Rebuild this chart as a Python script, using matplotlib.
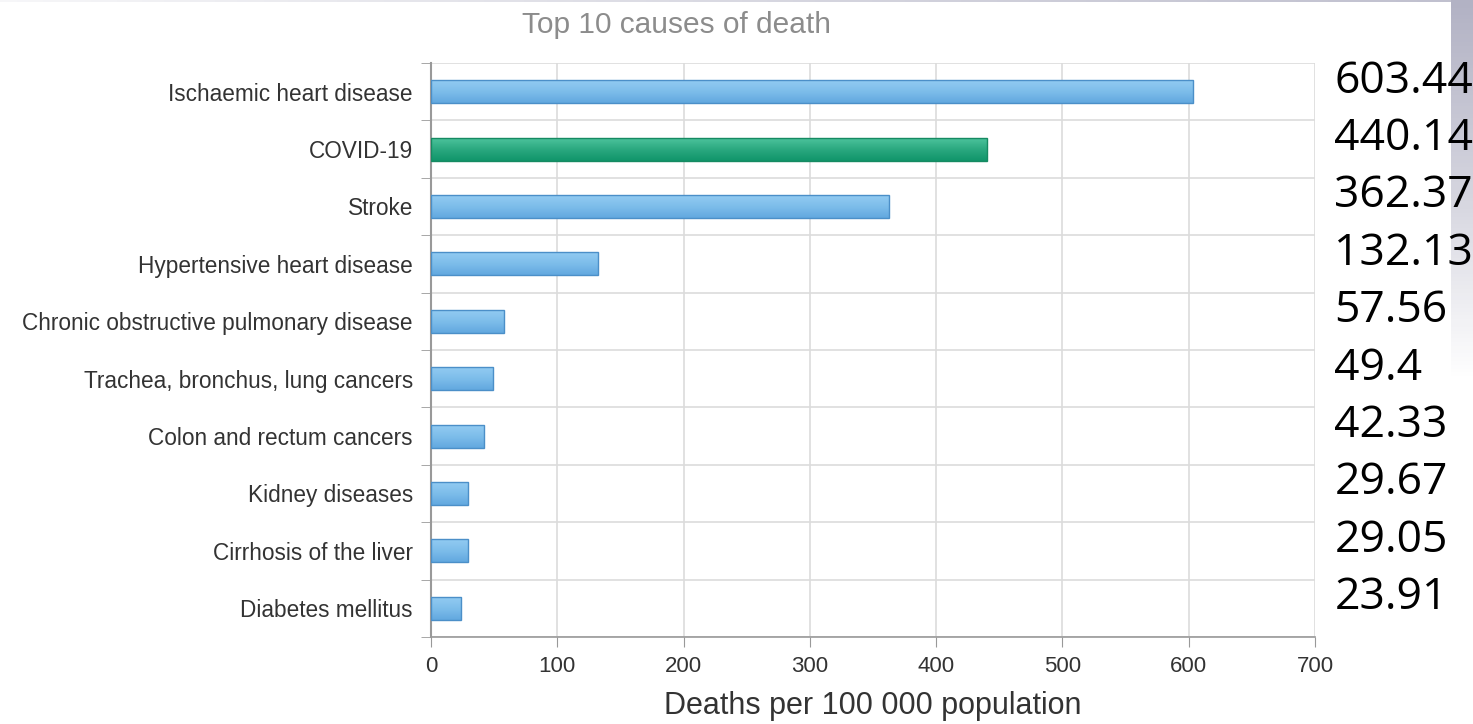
import numpy as np
import matplotlib
matplotlib.use('Agg')
import matplotlib.pyplot as plt
from matplotlib.colors import LinearSegmentedColormap

# ─── data ────────────────────────────────────────────────────────────────
causes = [
    "Ischaemic heart disease",
    "COVID-19",
    "Stroke",
    "Hypertensive heart disease",
    "Chronic obstructive pulmonary disease",
    "Trachea, bronchus, lung cancers",
    "Colon and rectum cancers",
    "Kidney diseases",
    "Cirrhosis of the liver",
    "Diabetes mellitus",
]
rates = [603.44, 440.14, 362.37, 132.13, 57.56, 49.4, 42.33, 29.67, 29.05, 23.91]
rate_labels = ["603.44", "440.14", "362.37", "132.13", "57.56",
               "49.4", "42.33", "29.67", "29.05", "23.91"]
x_ticks = [0, 100, 200, 300, 400, 500, 600, 700]

BLUE_EDGE = "#4b8fc8"
GREEN_EDGE = "#168a62"
blue_cmap = LinearSegmentedColormap.from_list("b", ["#92cbf2", "#7dbdea", "#62a8df"])
green_cmap = LinearSegmentedColormap.from_list("g", ["#4cc39c", "#2aa87f", "#10956a"])
slide_cmap = LinearSegmentedColormap.from_list("s", ["#b2b2c4", "#d4d4de", "#ffffff"])
GRID = "#dcdcdc"
FONT = "Liberation Sans"
BAR_H = 0.4

fig = plt.figure(figsize=(14.73, 7.24), dpi=100)

# slide background bits: thin grey band on top, fading strip at right edge
top = fig.add_axes([0.0, 0.997, 1.0, 0.003], zorder=-5)
top.imshow(np.linspace(0.9, 0.2, 100).reshape(1, -1), cmap=slide_cmap, vmin=0, vmax=1,
           aspect="auto")
top.axis("off")
right = fig.add_axes([1451 / 1473, 1 - 380 / 724, 22 / 1473, 380 / 724], zorder=-5)
right.imshow(np.linspace(0.0, 1.0, 100).reshape(-1, 1), cmap=slide_cmap, vmin=0, vmax=1,
             aspect="auto")
right.axis("off")

ax = fig.add_axes([0.2926, 0.1202, 0.6001, 0.7928])

y = np.arange(len(causes))
grad = np.linspace(0, 1, 64).reshape(-1, 1)
for yi, (name, val) in enumerate(zip(causes, rates)):
    covid = name == "COVID-19"
    bar = ax.barh(yi, val, height=BAR_H, color="none",
                  edgecolor=GREEN_EDGE if covid else BLUE_EDGE, linewidth=1.0, zorder=4)[0]
    im = ax.imshow(grad, cmap=green_cmap if covid else blue_cmap, aspect="auto",
                   extent=[0, val, yi + BAR_H / 2, yi - BAR_H / 2], zorder=3,
                   interpolation="bilinear")
    im.set_clip_path(bar)

ax.set_xlim(0, 700)
ax.set_ylim(len(causes) - 0.5, -0.5)
ax.set_xticks(x_ticks)
ax.set_xticklabels([str(t) for t in x_ticks], fontsize=16, color="#333333", family=FONT)
ax.set_yticks(y)
ax.set_yticklabels(causes, fontsize=16.3, color="#333333", family=FONT)
ax.tick_params(axis="y", length=0, pad=13)
ax.tick_params(axis="x", length=7, color="#999999", pad=7)

# category boundary ticks + horizontal grid
bounds = np.arange(len(causes) + 1) - 0.5
ax.set_yticks(bounds, minor=True)
ax.tick_params(axis="y", which="minor", length=7, color="#999999")
ax.grid(True, which="minor", axis="y", color=GRID, lw=1.2, zorder=0)
ax.grid(True, which="major", axis="x", color=GRID, lw=1.2, zorder=0)
ax.set_axisbelow(True)

for side in ["top", "right"]:
    ax.spines[side].set_visible(False)
ax.spines["left"].set_color("#999999")
ax.spines["bottom"].set_color("#999999")
ax.spines["left"].set_linewidth(1.5)
ax.spines["bottom"].set_linewidth(1.2)

fig.text(676 / 1473, 1 - 25 / 724, "Top 10 causes of death", fontsize=21.5,
         color="#8c8c8c", family=FONT, ha="center", va="center")
ax.set_xlabel("Deaths per 100 000 population", fontsize=22, color="#333333",
              family=FONT, labelpad=10)

# values printed to the right of the chart
for i, lab in enumerate(rate_labels):
    ax.text(1.022, i - 0.18, lab, transform=ax.get_yaxis_transform(),
            fontsize=32, color="black", family="Open Sans", va="center", ha="left",
            clip_on=False)

fig.savefig("out.png", dpi=100)
